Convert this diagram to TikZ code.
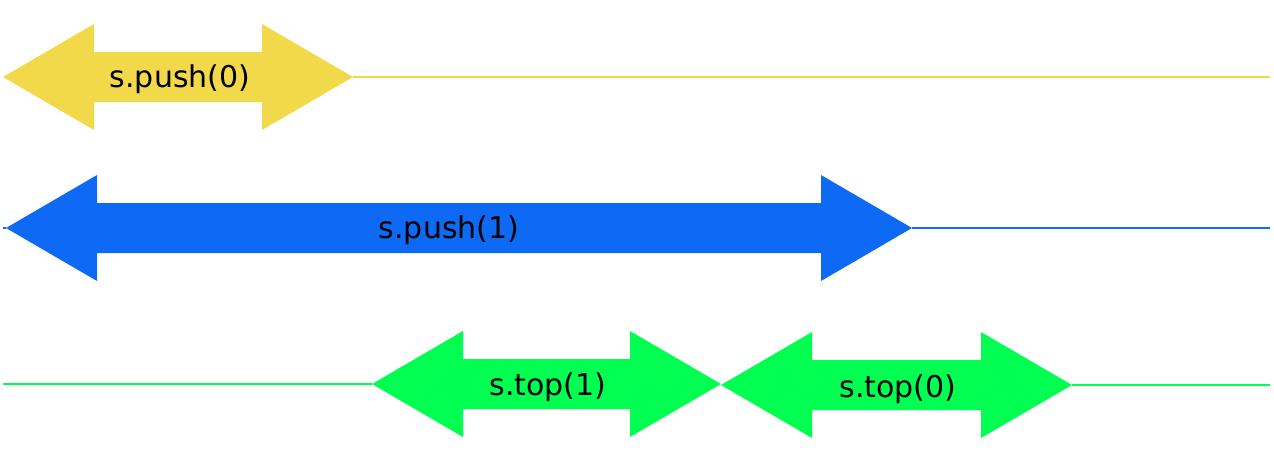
\documentclass[tikz,border=0pt]{standalone}
\usepackage{fontspec}
\setmainfont{DejaVu Sans}
\definecolor{cyel}{RGB}{242,217,74}
\definecolor{cblu}{RGB}{14,105,245}
\definecolor{cgrn}{RGB}{0,255,80}
\newcommand{\dblarr}[5]{% x1, x2, y, colour, name
  \fill[#4] (#1,#3) -- (#1+91,#3-53) -- (#1+91,#3-25) -- (#2-91,#3-25) -- (#2-91,#3-53)
    -- (#2,#3) -- (#2-91,#3+53) -- (#2-91,#3+25) -- (#1+91,#3+25) -- (#1+91,#3+53) -- cycle;
  \coordinate (#5L) at (#1,#3);
  \coordinate (#5R) at (#2,#3);
}
\begin{document}
\begin{tikzpicture}[x=1pt,y=-1pt,
  lbl/.style={font=\fontsize{30}{34}\selectfont, text=black, inner sep=0pt},
  tl/.style={line width=2.2pt}]
\useasboundingbox (0,0) rectangle (1274,466);
% yellow
\dblarr{3}{353}{77}{cyel}{y}
\coordinate (yE) at (1270,77);
\draw[tl,cyel] (yR) -- (yE);
\node[lbl] (py0) at (180,79) {s.push(0)};
% blue
\coordinate (bS) at (3,228);
\dblarr{6}{912}{228}{cblu}{b}
\coordinate (bE) at (1270,228);
\draw[tl,cblu] (bS) -- (bL);
\draw[tl,cblu] (bR) -- (bE);
\node[lbl] (pb1) at (449,230) {s.push(1)};
% green
\coordinate (gS) at (3,384);
\dblarr{372}{721}{384}{cgrn}{g}
\dblarr{721}{1072}{385}{cgrn}{h}
\coordinate (gE) at (1270,385);
\draw[tl,cgrn] (gS) -- (gL);
\draw[tl,cgrn] (hR) -- (gE);
\node[lbl] (t1) at (548,387) {s.top(1)};
\node[lbl] (t0) at (898,389) {s.top(0)};
\end{tikzpicture}
\end{document}
